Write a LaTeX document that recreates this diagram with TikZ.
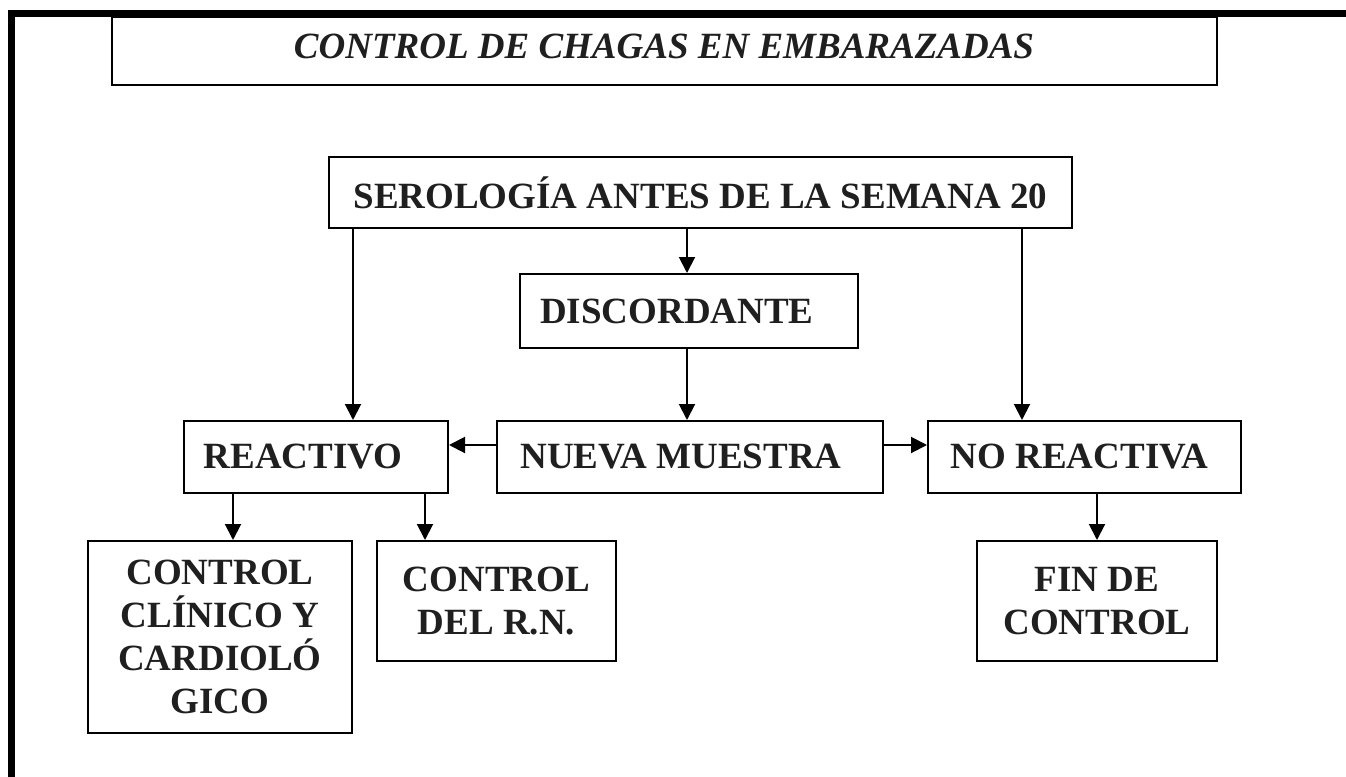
\documentclass[tikz,border=0pt]{standalone}
\usepackage{fontspec}
\setmainfont{Liberation Serif}
\usetikzlibrary{arrows.meta}
\begin{document}
\begin{tikzpicture}[x=0.5pt,y=-0.5pt,
  box/.style={draw=black,line width=1pt,inner sep=0pt,align=center,
    font=\fontsize{18.5pt}{21.5pt}\selectfont\bfseries,text=black!88},
  arr/.style={line width=1pt,-{Triangle[length=8pt,width=8pt]}}]
\useasboundingbox (0,0) rectangle (1346,777);
\fill[white] (0,0) rectangle (1346,777);
% outer frame (only top and left visible)
\draw[line width=3.5pt] (11,790) -- (11,13.5) -- (1360,13.5);
% title
\node[box,minimum width=552.5pt,minimum height=34pt] (title) at (664.5,51) {};
\node[font=\fontsize{18.5pt}{21.5pt}\selectfont\bfseries\itshape,text=black!88,inner sep=0pt] (titletext) at (664,46) {CONTROL DE CHAGAS EN EMBARAZADAS};
% boxes
\node[box,minimum width=371.5pt,minimum height=35.5pt] (sero) at (700.5,192.5) {SEROLOGÍA ANTES DE LA SEMANA 20};
\node[box,minimum width=169pt,minimum height=37pt] (disc) at (689,311) {DISCORDANTE\hspace*{12pt}};
\node[box,minimum width=132pt,minimum height=36pt] (reac) at (316,457) {REACTIVO\hspace*{13pt}};
\node[box,minimum width=193pt,minimum height=36pt] (nueva) at (690,457) {NUEVA MUESTRA\hspace*{9pt}};
\node[box,minimum width=156.5pt,minimum height=36pt] (noreac) at (1084.5,457) {NO REACTIVA\hspace*{5pt}};
\node[box,minimum width=132pt,minimum height=96pt] (ccc) at (220,637) {CONTROL\\CLÍNICO Y\\CARDIOLÓ\\GICO};
\node[box,minimum width=119.5pt,minimum height=60pt] (crn) at (496.5,601) {CONTROL\\DEL R.N.};
\node[box,minimum width=120pt,minimum height=60pt] (fin) at (1097,601) {FIN DE\\CONTROL};
% helper coordinates
\coordinate (xa) at (353,0);
\coordinate (xb) at (687,0);
\coordinate (xc) at (1022,0);
\coordinate (xd) at (233,0);
\coordinate (xe) at (425,0);
\coordinate (xf) at (1097,0);
\coordinate (ym) at (0,445);
% connectors
\draw[arr] (sero.south -| xa) -- (reac.north -| xa);
\draw[arr] (sero.south -| xb) -- (disc.north -| xb);
\draw[arr] (disc.south -| xb) -- (nueva.north -| xb);
\draw[arr] (sero.south -| xc) -- (noreac.north -| xc);
\draw[arr] (nueva.west |- ym) -- (reac.east |- ym);
\draw[arr] (nueva.east |- ym) -- (noreac.west |- ym);
\draw[arr] (reac.south -| xd) -- (ccc.north -| xd);
\draw[arr] (reac.south -| xe) -- (crn.north -| xe);
\draw[arr] (noreac.south -| xf) -- (fin.north -| xf);
\end{tikzpicture}
\end{document}
